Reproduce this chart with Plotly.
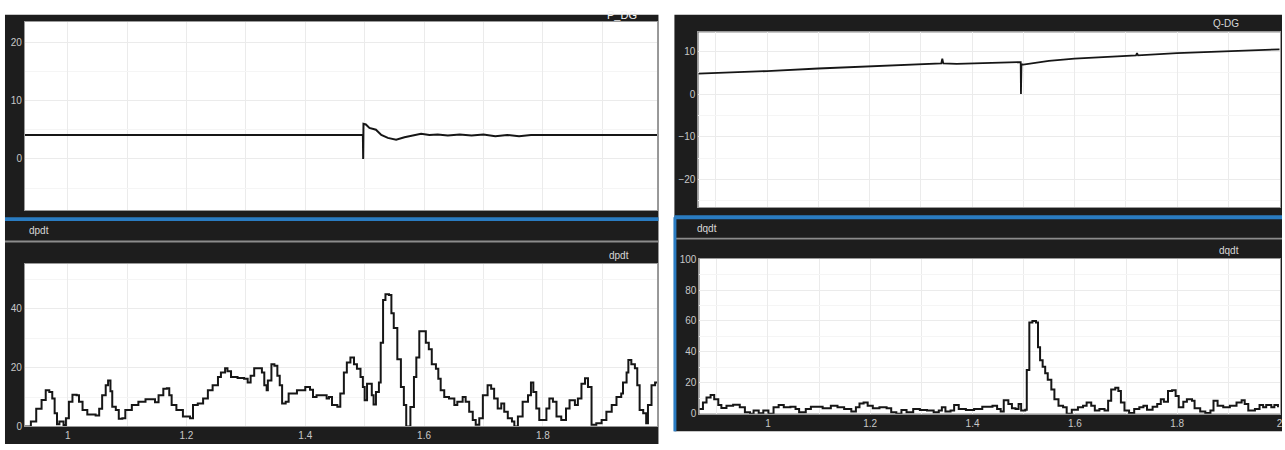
import plotly.graph_objects as go

W, H = 1285, 450

# ---------------- data ----------------
pdg_t = [0.928, 1.497, 1.4975, 1.498, 1.502, 1.508, 1.519, 1.528, 1.539, 1.553, 1.567,
         1.581, 1.595, 1.609, 1.623, 1.640, 1.660, 1.680, 1.700, 1.720, 1.740, 1.760,
         1.780, 1.796, 1.993]
pdg_v = [4.1, 4.1, 0.0, 6.0, 5.9, 5.3, 5.0, 4.1, 3.6, 3.3, 3.7,
         4.0, 4.3, 4.1, 4.2, 4.0, 4.2, 4.0, 4.2, 3.9, 4.1, 3.9,
         4.1, 4.1, 4.1]

dpdt_t = [0.928, 0.933, 0.938, 0.947, 0.956, 0.963, 0.969, 0.974, 0.978, 0.982, 0.986, 0.993,
          0.997, 1.002, 1.008, 1.015, 1.019, 1.025, 1.033, 1.047, 1.053, 1.058, 1.064, 1.068,
          1.072, 1.075, 1.081, 1.086, 1.092, 1.097, 1.108, 1.119, 1.131, 1.142, 1.147, 1.153,
          1.161, 1.167, 1.171, 1.175, 1.183, 1.194, 1.206, 1.211, 1.219, 1.228, 1.236, 1.244,
          1.253, 1.258, 1.265, 1.269, 1.275, 1.286, 1.297, 1.303, 1.308, 1.314, 1.322, 1.327,
          1.331, 1.335, 1.337, 1.343, 1.348, 1.353, 1.357, 1.361, 1.367, 1.372, 1.386, 1.400,
          1.408, 1.413, 1.419, 1.431, 1.436, 1.440, 1.445, 1.454, 1.459, 1.465, 1.470, 1.476,
          1.482, 1.487, 1.493, 1.497, 1.500, 1.504, 1.508, 1.512, 1.515, 1.519, 1.524, 1.527,
          1.531, 1.535, 1.541, 1.545, 1.549, 1.555, 1.561, 1.566, 1.570, 1.575, 1.577, 1.583,
          1.587, 1.592, 1.598, 1.603, 1.608, 1.613, 1.620, 1.624, 1.628, 1.634, 1.642, 1.651,
          1.656, 1.665, 1.670, 1.676, 1.682, 1.687, 1.693, 1.699, 1.707, 1.713, 1.718, 1.724,
          1.730, 1.735, 1.741, 1.748, 1.752, 1.758, 1.766, 1.775, 1.780, 1.784, 1.789, 1.794,
          1.800, 1.806, 1.811, 1.817, 1.823, 1.831, 1.839, 1.845, 1.854, 1.859, 1.865, 1.871,
          1.876, 1.882, 1.890, 1.899, 1.907, 1.916, 1.924, 1.932, 1.935, 1.941, 1.944, 1.949,
          1.955, 1.959, 1.963, 1.969, 1.974, 1.977, 1.983, 1.989, 1.994]
dpdt_v = [0.0, 0.0, 1.7, 6.0, 9.0, 12.3, 11.7, 9.5, 4.5, 0.8, 1.7, 0.5,
          2.8, 8.4, 10.8, 10.6, 8.4, 5.6, 4.1, 3.7, 6.0, 10.6, 14.0, 15.6,
          12.0, 6.7, 5.6, 2.6, 2.8, 5.6, 7.3, 8.4, 9.3, 9.3, 8.2, 10.6,
          12.8, 13.0, 10.6, 7.3, 5.6, 3.4, 2.8, 7.3, 7.8, 9.5, 12.3, 14.0,
          16.8, 18.4, 19.8, 18.8, 16.8, 16.5, 16.2, 15.0, 17.3, 19.8, 19.8, 18.4,
          14.0, 12.3, 15.6, 21.2, 20.7, 17.3, 14.0, 7.8, 8.4, 11.2, 12.3, 13.4,
          12.5, 10.0, 10.6, 10.6, 9.5, 10.0, 7.3, 6.7, 11.2, 18.4, 21.8, 23.5,
          21.2, 19.6, 16.8, 13.4, 8.9, 14.5, 14.5, 10.6, 7.5, 11.7, 15.0, 28.5,
          43.0, 45.0, 44.7, 38.5, 33.5, 22.9, 13.4, 7.3, 0.0, 0.0, 6.6, 16.8,
          23.5, 32.4, 32.4, 28.5, 26.3, 21.2, 19.6, 16.2, 12.3, 10.0, 9.5, 7.3,
          8.4, 10.0, 8.4, 5.0, 2.2, 0.6, 2.8, 10.6, 14.0, 12.8, 9.5, 6.1,
          7.8, 5.0, 2.8, 1.7, 0.0, 3.4, 8.4, 10.6, 15.0, 11.7, 6.1, 2.2,
          2.2, 6.1, 9.5, 8.4, 3.4, 2.2, 6.1, 8.9, 7.3, 9.5, 14.5, 16.4,
          13.4, 0.6, 1.1, 2.2, 5.0, 7.3, 10.0, 11.2, 15.0, 18.4, 22.6, 21.2,
          19.8, 14.0, 5.6, 4.5, 1.1, 7.3, 14.0, 15.0, 15.6]

qdg_t = [0.866, 0.950, 1.000, 1.100, 1.200, 1.300, 1.340, 1.342, 1.344, 1.370, 1.450,
         1.495, 1.4955, 1.4965, 1.500, 1.520, 1.550, 1.600, 1.650, 1.720, 1.722,
         1.724, 1.800, 1.900, 2.000]
qdg_v = [4.8, 5.1, 5.4, 6.0, 6.5, 7.0, 7.2, 8.3, 7.2, 7.1, 7.4,
         7.5, 0.0, 7.0, 6.9, 7.3, 7.8, 8.3, 8.7, 9.1, 9.6,
         9.1, 9.6, 10.0, 10.5]

dqdt_t = [0.866, 0.873, 0.880, 0.888, 0.895, 0.903, 0.909, 0.919, 0.932, 0.945, 0.955,
          0.965, 0.972, 0.982, 0.991, 1.001, 1.011, 1.021, 1.031, 1.044, 1.054, 1.061,
          1.074, 1.084, 1.097, 1.107, 1.123, 1.136, 1.149, 1.163, 1.172, 1.179, 1.187,
          1.195, 1.205, 1.218, 1.232, 1.241, 1.251, 1.261, 1.271, 1.284, 1.297, 1.311,
          1.324, 1.334, 1.340, 1.347, 1.357, 1.364, 1.373, 1.387, 1.403, 1.419, 1.439,
          1.448, 1.455, 1.461, 1.470, 1.477, 1.484, 1.490, 1.495, 1.503, 1.506, 1.511,
          1.517, 1.524, 1.528, 1.532, 1.537, 1.542, 1.547, 1.554, 1.560, 1.568, 1.577,
          1.584, 1.594, 1.606, 1.616, 1.623, 1.632, 1.639, 1.648, 1.658, 1.665, 1.671,
          1.679, 1.685, 1.690, 1.697, 1.706, 1.716, 1.726, 1.734, 1.741, 1.752, 1.761,
          1.768, 1.774, 1.782, 1.790, 1.797, 1.803, 1.812, 1.819, 1.829, 1.834, 1.845,
          1.855, 1.865, 1.871, 1.879, 1.890, 1.903, 1.916, 1.926, 1.932, 1.939, 1.952,
          1.961, 1.968, 1.974, 1.984, 1.990, 1.997]
dqdt_v = [3.2, 7.4, 10.5, 12.2, 9.5, 5.7, 3.8, 5.3, 5.9, 4.2, 1.1,
          0.0, 2.1, 0.4, 2.1, 0.0, 4.2, 5.7, 4.2, 4.6, 3.2, 1.1,
          3.2, 4.6, 4.6, 3.6, 5.3, 4.2, 3.2, 1.5, 4.2, 6.7, 7.4,
          5.3, 3.6, 4.2, 3.6, 1.1, 0.0, 2.5, 1.1, 3.2, 2.5, 2.1,
          1.1, 2.1, 4.2, 1.5, 2.1, 5.7, 3.2, 2.5, 3.2, 4.6, 5.3,
          3.2, 1.5, 8.8, 6.3, 3.6, 3.2, 6.3, 2.1, 2.7, 28.4, 59.0,
          60.0, 59.0, 43.0, 34.7, 30.5, 26.3, 22.1, 15.8, 9.5, 5.3, 4.2,
          0.0, 2.7, 4.2, 5.3, 7.4, 5.3, 2.1, 3.2, 2.1, 8.4, 15.8,
          16.8, 14.7, 7.4, 2.1, 0.6, 3.2, 4.2, 5.3, 2.7, 4.6, 6.3,
          9.5, 7.8, 14.7, 15.2, 11.6, 4.2, 7.8, 9.5, 8.4, 3.6, 1.5,
          0.6, 2.1, 8.4, 5.3, 4.2, 5.3, 7.4, 8.8, 6.3, 2.1, 3.2,
          5.7, 4.2, 5.7, 4.2, 5.7, 4.2]

left_xticks = [1.0, 1.2, 1.4, 1.6, 1.8]
left_xtext = ["1", "1.2", "1.4", "1.6", "1.8"]
right_xticks = [1.0, 1.2, 1.4, 1.6, 1.8, 2.0]
right_xtext = ["1", "1.2", "1.4", "1.6", "1.8", "2"]

# ---------------- layout helpers (page pixels -> paper fractions) ----------------
def fx(px):
    return px / W

def fy(py):
    return 1 - py / H

DARK = "#1d1d1d"
BLUE = "#2a7cc2"
GRAYLINE = "#8c8c8c"
TICKC = "#c8c8c8"
GRID = "#ebebeb"
MGRID = "#f5f5f5"
FONT = "Liberation Sans"
LINE = dict(color="#161616", width=2)

fig = go.Figure()
fig.add_trace(go.Scatter(x=pdg_t, y=pdg_v, mode="lines", line=LINE, xaxis="x", yaxis="y"))
fig.add_trace(go.Scatter(x=dpdt_t, y=dpdt_v, mode="lines", line=dict(LINE, shape="hv"),
                         xaxis="x2", yaxis="y2"))
fig.add_trace(go.Scatter(x=qdg_t, y=qdg_v, mode="lines", line=dict(color="#161616", width=1.8),
                         xaxis="x3", yaxis="y3"))
fig.add_trace(go.Scatter(x=dqdt_t, y=dqdt_v, mode="lines", line=dict(LINE, shape="hv"),
                         xaxis="x4", yaxis="y4"))

panels = {
    "TL": (25, 659, 16, 210),
    "BL": (25, 659, 265, 432),
    "TR": (700, 1283, 27, 207),
    "BR": (701, 1283, 260, 419),
}

def xax(p, rng, anchor, labels, tv=None, tt=None):
    x0, x1, _, _ = panels[p]
    d = dict(domain=[fx(x0), fx(x1)], range=rng, anchor=anchor,
             showgrid=True, gridcolor=GRID, gridwidth=1, zeroline=False,
             showline=True, linecolor="#9a9a9a", linewidth=1, mirror=True,
             ticks="", showticklabels=labels, ticklabeloverflow="allow",
             tickfont=dict(family=FONT, size=10, color=TICKC),
             minor=dict(dtick=0.1, tick0=0, showgrid=True, gridcolor=GRID))
    if tv is not None:
        d.update(tickmode="array", tickvals=tv, ticktext=tt)
    else:
        d.update(dtick=0.2, tick0=0)
    return d

def yax(p, rng, anchor, dtick, minor):
    _, _, y0, y1 = panels[p]
    return dict(domain=[fy(y1), fy(y0)], range=rng, anchor=anchor,
                showgrid=True, gridcolor=GRID, zeroline=False,
                showline=True, linecolor="#9a9a9a", linewidth=1, mirror=True,
                ticks="", dtick=dtick, tick0=0,
                tickfont=dict(family=FONT, size=10, color=TICKC),
                minor=dict(dtick=minor, tick0=0, showgrid=True, gridcolor=MGRID))

shapes = []
def rect(x0, y0, x1, y1, color):
    shapes.append(dict(type="rect", xref="paper", yref="paper", x0=fx(x0), x1=fx(x1),
                       y0=fy(y1), y1=fy(y0), fillcolor=color, line=dict(width=0), layer="below"))

# dark frames
rect(5, 9, 660, 450, DARK)
rect(676, 9, 1285, 437, DARK)
# separators
rect(5, 217, 660, 221, BLUE)
rect(5, 241, 660, 243, GRAYLINE)
rect(676, 215, 1285, 219, BLUE)
rect(676, 238, 1285, 240, GRAYLINE)
rect(675, 217, 678, 437, BLUE)
# white plot areas
for p, (x0, x1, y0, y1) in panels.items():
    rect(x0, y0, x1, y1, "white")

annotations = []
def label(text, x, y, xanchor="left", color="#d8d8d8", size=10):
    annotations.append(dict(text=text, x=fx(x), y=fy(y), xref="paper", yref="paper",
                            xanchor=xanchor, yanchor="middle", showarrow=False,
                            font=dict(family=FONT, size=size, color=color)))

label("P_DG", 640, 9, xanchor="right", color="#f4f4f4", size=11)
label("dpdt", 27, 231)
label("dpdt", 632, 256, xanchor="right")
label("Q-DG", 1244, 18, xanchor="right")
label("dqdt", 697, 229)
label("dqdt", 1244, 251, xanchor="right")

fig.update_layout(
    width=W, height=H, margin=dict(l=0, r=0, t=0, b=0),
    paper_bgcolor="white", plot_bgcolor="white", showlegend=False,
    xaxis=xax("TL", [0.928, 1.993], "y", False),
    yaxis=yax("TL", [-8.8, 23.5], "x", 10, 5),
    xaxis2=xax("BL", [0.928, 1.993], "y2", True, left_xticks, left_xtext),
    yaxis2=yax("BL", [0, 55.3], "x2", 20, 10),
    xaxis3=xax("TR", [0.866, 2.001], "y3", False),
    yaxis3=yax("TR", [-26.6, 14.5], "x3", 10, 5),
    xaxis4=xax("BR", [0.866, 2.001], "y4", True, right_xticks, right_xtext),
    yaxis4=yax("BR", [0, 100], "x4", 20, 10),
    shapes=shapes, annotations=annotations,
)

# remove the default 8px page margin so the figure fills the 1285x450 window exactly
fig.write_html("out.html", config={"displayModeBar": False},
               post_script="document.body.style.margin='0';")
